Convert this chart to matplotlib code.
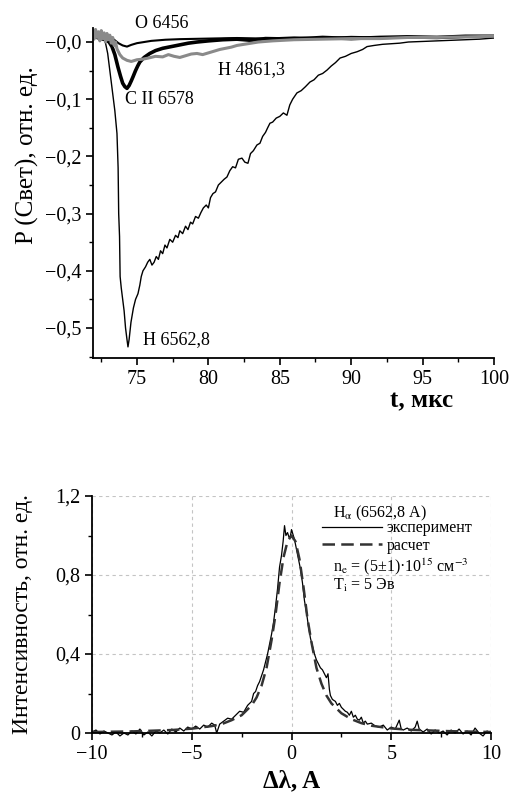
import matplotlib
matplotlib.use("Agg")
import matplotlib.pyplot as plt
from matplotlib.ticker import FixedLocator, FixedFormatter, MultipleLocator

plt.rcParams['font.family'] = ['Liberation Serif', 'DejaVu Serif']
plt.rcParams['mathtext.fontset'] = 'stix'
plt.rcParams['axes.unicode_minus'] = True

# --- верхний график: осциллограммы линий, P(t) ---
t_h65 = [71.92, 72.1, 72.3, 72.5, 72.7, 72.8, 72.95, 73.1, 73.3, 73.45, 73.6, 73.68,
         73.72, 73.78, 73.82, 73.9, 74.0, 74.1, 74.2, 74.3, 74.37, 74.45, 74.58, 74.75,
         74.9, 75.07, 75.2, 75.3, 75.42, 75.6, 75.75, 75.9, 76.05, 76.2, 76.35, 76.5,
         76.65, 76.8, 76.96, 77.1, 77.3, 77.5, 77.7, 77.87, 78.0, 78.2, 78.4, 78.57,
         78.75, 78.9, 79.1, 79.3, 79.48, 79.65, 79.85, 80.0, 80.15, 80.32, 80.5, 80.7,
         80.9, 81.1, 81.3, 81.5, 81.7, 81.9, 82.1, 82.35, 82.55, 82.77, 82.95, 83.15,
         83.4, 83.61, 83.8, 84.0, 84.15, 84.31, 84.5, 84.75, 85.0, 85.25, 85.5, 85.7,
         85.9, 86.2, 86.5, 86.8, 87.11, 87.4, 87.7, 88.0, 88.31, 88.6, 88.9, 89.22,
         89.6, 90.0, 90.41, 90.8, 91.11, 91.6, 92.2, 92.8, 93.4, 94.0, 95.0, 96.0,
         97.0, 98.0, 99.0, 100.0]
p_h65 = [0.008, 0.012, 0.006, 0.010, 0.004, -0.002, -0.02, -0.05, -0.09, -0.12, -0.16, -0.22,
         -0.30, -0.34, -0.41, -0.43, -0.45, -0.47, -0.50, -0.52, -0.533, -0.52, -0.49, -0.465,
         -0.45, -0.44, -0.425, -0.41, -0.40, -0.393, -0.385, -0.38, -0.39, -0.385, -0.375, -0.38,
         -0.365, -0.37, -0.355, -0.36, -0.345, -0.35, -0.338, -0.342, -0.33, -0.335, -0.322, -0.328,
         -0.315, -0.318, -0.305, -0.308, -0.298, -0.29, -0.285, -0.29, -0.272, -0.265, -0.262, -0.25,
         -0.245, -0.24, -0.236, -0.225, -0.218, -0.22, -0.205, -0.203, -0.21, -0.212, -0.195, -0.19,
         -0.18, -0.177, -0.165, -0.158, -0.15, -0.142, -0.14, -0.133, -0.13, -0.124, -0.128, -0.11,
         -0.10, -0.089, -0.085, -0.078, -0.07, -0.066, -0.058, -0.055, -0.049, -0.042, -0.036, -0.028,
         -0.025, -0.02, -0.017, -0.013, -0.008, -0.006, -0.004, -0.003, -0.002, 0.0, 0.001, 0.002,
         0.003, 0.004, 0.005, 0.007]

t_c2 = [71.92, 72.2, 72.5, 72.8, 73.05, 73.25, 73.45, 73.67, 73.85, 74.0, 74.15, 74.3,
        74.45, 74.6, 74.72, 74.9, 75.05, 75.2, 75.5, 75.9, 76.3, 76.8, 77.4, 78.0,
        78.6, 79.2, 80.0, 81.0, 82.0, 83.0, 84.0, 86.0, 88.0, 90.0, 92.0, 94.0,
        96.0, 98.0, 100.0]
p_c2 = [0.012, 0.008, 0.006, 0.004, 0.0, -0.008, -0.022, -0.044, -0.06, -0.072, -0.078, -0.081,
        -0.076, -0.068, -0.061, -0.05, -0.042, -0.035, -0.027, -0.02, -0.015, -0.011, -0.008, -0.005,
        -0.002, 0.0, 0.002, 0.004, 0.005, 0.003, 0.006, 0.005, 0.008, 0.006, 0.008, 0.009,
        0.008, 0.010, 0.010]

t_o = [71.92, 72.2, 72.5, 72.8, 73.1, 73.4, 73.7, 74.0, 74.3, 74.6, 75.0, 75.5,
       76.0, 77.0, 78.0, 80.0, 82.0, 84.0, 86.0, 88.0, 90.0, 92.0, 94.0, 96.0,
       98.0, 100.0]
p_o = [0.012, 0.016, 0.010, 0.014, 0.008, 0.004, -0.002, -0.006, -0.008, -0.005, -0.002, 0.0,
       0.002, 0.004, 0.005, 0.006, 0.007, 0.006, 0.008, 0.007, 0.009, 0.008, 0.009, 0.008,
       0.010, 0.010]

t_h48 = [71.92, 72.0, 72.1, 72.2, 72.3, 72.4, 72.5, 72.6, 72.7, 72.8, 72.9, 73.0,
         73.1, 73.2, 73.3, 73.4, 73.5, 73.6, 73.8, 74.0, 74.3, 74.6, 75.0, 75.4,
         75.8, 76.3, 76.8, 77.2, 77.6, 78.0, 78.4, 78.8, 79.2, 79.6, 80.0, 80.4,
         80.8, 81.2, 81.6, 82.0, 82.5, 83.0, 83.5, 84.5, 86.0, 88.0, 90.0, 92.0,
         94.0, 96.0, 98.0, 100.0]
p_h48 = [0.02, 0.005, 0.022, 0.008, 0.018, 0.002, 0.02, 0.006, 0.016, 0.0, 0.015, 0.004,
         0.012, -0.002, 0.008, -0.006, 0.0, -0.012, -0.022, -0.028, -0.032, -0.034, -0.031, -0.03,
         -0.028, -0.025, -0.026, -0.022, -0.025, -0.027, -0.024, -0.021, -0.02, -0.022, -0.019, -0.016,
         -0.013, -0.011, -0.009, -0.006, -0.004, -0.002, 0.0, 0.002, 0.004, 0.005, 0.006, 0.006,
         0.008, 0.008, 0.009, 0.010]

top_yticks = [0.0, -0.1, -0.2, -0.3, -0.4, -0.5]
top_ylabels = ['−0,0', '−0,1', '−0,2', '−0,3', '−0,4', '−0,5']
top_xticks = [75, 80, 85, 90, 95, 100]

# --- нижний график: контур H-альфа ---
dl_exp = [-10.0, -9.8, -9.6, -9.4, -9.2, -9.0, -8.8, -8.6, -8.4, -8.2, -8.0, -7.8,
          -7.6, -7.4, -7.2, -7.0, -6.8, -6.6, -6.4, -6.2, -6.0, -5.8, -5.6, -5.4,
          -5.2, -5.0, -4.8, -4.6, -4.4, -4.2, -4.0, -3.85, -3.75, -3.6, -3.4, -3.2,
          -3.0, -2.8, -2.6, -2.4, -2.2, -2.0, -1.9, -1.8, -1.7, -1.6, -1.5, -1.4,
          -1.3, -1.2, -1.1, -1.0, -0.9, -0.8, -0.7, -0.6, -0.5, -0.42, -0.35, -0.28,
          -0.2, -0.12, -0.05, 0.0, 0.06, 0.15, 0.25, 0.35, 0.45, 0.55, 0.65, 0.75,
          0.85, 0.95, 1.05, 1.15, 1.25, 1.35, 1.45, 1.55, 1.65, 1.75, 1.83, 1.9,
          1.95, 2.05, 2.2, 2.3, 2.4, 2.5, 2.6, 2.7, 2.8, 2.9, 3.0, 3.1,
          3.2, 3.3, 3.4, 3.5, 3.6, 3.7, 3.8, 4.0, 4.2, 4.4, 4.6, 4.8,
          5.0, 5.2, 5.4, 5.5, 5.6, 5.8, 6.0, 6.2, 6.3, 6.4, 6.6, 6.8,
          7.0, 7.2, 7.4, 7.6, 7.8, 8.0, 8.2, 8.4, 8.6, 8.8, 9.0, 9.2,
          9.4, 9.6, 9.8, 10.0]
i_exp = [0.005, 0.015, -0.005, 0.01, 0.0, -0.01, 0.005, -0.015, 0.0, -0.01, 0.01, -0.005,
         0.02, -0.01, 0.005, -0.015, 0.01, 0.0, 0.015, -0.005, 0.02, 0.005, 0.025, 0.01,
         0.03, 0.02, 0.035, 0.02, 0.04, 0.03, 0.05, 0.04, 0.0, 0.045, 0.06, 0.075,
         0.07, 0.09, 0.11, 0.105, 0.14, 0.16, 0.2, 0.21, 0.24, 0.26, 0.29, 0.32,
         0.36, 0.40, 0.45, 0.50, 0.56, 0.64, 0.73, 0.84, 0.90, 0.97, 1.05, 1.0,
         1.015, 0.99, 1.0, 1.03, 1.01, 0.98, 0.93, 0.88, 0.83, 0.76, 0.67, 0.61,
         0.54, 0.48, 0.44, 0.40, 0.37, 0.35, 0.33, 0.32, 0.30, 0.28, 0.30, 0.22,
         0.19, 0.17, 0.16, 0.14, 0.15, 0.13, 0.12, 0.11, 0.105, 0.09, 0.11, 0.08,
         0.09, 0.07, 0.065, 0.08, 0.05, 0.06, 0.045, 0.05, 0.035, 0.03, 0.04, 0.015,
         0.03, 0.02, 0.065, 0.02, 0.015, 0.025, 0.01, 0.03, 0.06, 0.02, 0.005, 0.02,
         -0.005, 0.015, 0.0, 0.01, -0.01, 0.015, 0.0, 0.02, -0.005, 0.01, -0.01, 0.025,
         0.0, -0.015, 0.01, 0.0]

dl_calc = [-10.0, -8.0, -6.0, -5.0, -4.0, -3.5, -3.0, -2.5, -2.0, -1.75, -1.5, -1.25,
           -1.0, -0.8, -0.6, -0.4, -0.2, 0.0, 0.2, 0.4, 0.6, 0.8, 1.0, 1.25,
           1.5, 1.75, 2.0, 2.5, 3.0, 3.5, 4.0, 5.0, 6.0, 8.0, 10.0]
i_calc = [0.005, 0.008, 0.015, 0.022, 0.035, 0.045, 0.065, 0.09, 0.14, 0.18, 0.24, 0.33,
          0.47, 0.60, 0.76, 0.89, 0.97, 1.0, 0.97, 0.88, 0.74, 0.58, 0.46, 0.33,
          0.25, 0.19, 0.15, 0.10, 0.07, 0.05, 0.037, 0.023, 0.016, 0.009, 0.005]

bot_yticks = [0.0, 0.4, 0.8, 1.2]
bot_ylabels = ['0', '0,4', '0,8', '1,2']
bot_xticks = [-10, -5, 0, 5, 10]
bot_xlabels = ['−10', '−5', '0', '5', '10']

fig = plt.figure(figsize=(5.18, 7.92), dpi=100)
ax1 = fig.add_axes([0.1795, 0.548, 0.7742, 0.417])
ax2 = fig.add_axes([0.1776, 0.0745, 0.7703, 0.2992])

# верхний график
ax1.plot(t_h65, p_h65, color='black', lw=1.0)
ax1.plot(t_c2, p_c2, color='black', lw=2.6)
ax1.plot(t_o, p_o, color='black', lw=1.5)
ax1.plot(t_h48, p_h48, color='#8a8a8a', lw=2.2)

ax1.set_xlim(71.92, 100)
ax1.set_ylim(-0.5524, 0.025)
for s in ['top', 'right']:
    ax1.spines[s].set_visible(False)
for s in ['left', 'bottom']:
    ax1.spines[s].set_linewidth(1.3)
ax1.yaxis.set_major_locator(FixedLocator(top_yticks))
ax1.yaxis.set_major_formatter(FixedFormatter(top_ylabels))
ax1.yaxis.set_minor_locator(MultipleLocator(0.05))
ax1.xaxis.set_major_locator(FixedLocator(top_xticks))
ax1.xaxis.set_minor_locator(MultipleLocator(2.5))
ax1.tick_params(which='major', direction='out', length=5, width=1.2, labelsize=14.5)
ax1.tick_params(which='minor', direction='out', length=3, width=1.0)
ax1.set_ylabel('P (Свет), отн. ед.', fontsize=18)
ax1.yaxis.set_label_coords(-0.135, 0.615)
ax1.set_xlabel('t, мкс', fontsize=18, fontweight='bold')
ax1.xaxis.set_label_coords(0.82, -0.095)

ax1.text(74.86, 0.033, 'O 6456', fontsize=13, va='center', clip_on=False)
ax1.text(80.67, -0.049, 'H 4861,3', fontsize=13, va='center')
ax1.text(74.16, -0.101, 'C II 6578', fontsize=13, va='center')
ax1.text(75.42, -0.521, 'H 6562,8', fontsize=13, va='center')

# нижний график
ax2.grid(True, color='#c4c4c4', ls=(0, (3, 3)), lw=0.8)
ax2.set_axisbelow(True)
exp_line, = ax2.plot(dl_exp, i_exp, color='black', lw=0.9, clip_on=False)
calc_line, = ax2.plot(dl_calc, i_calc, color='#333333', lw=1.8, ls=(0, (5, 2.5)))

ax2.set_xlim(-10, 10)
ax2.set_ylim(0, 1.2)
for s in ['top', 'right']:
    ax2.spines[s].set_visible(False)
for s in ['left', 'bottom']:
    ax2.spines[s].set_linewidth(1.3)
ax2.yaxis.set_major_locator(FixedLocator(bot_yticks))
ax2.yaxis.set_major_formatter(FixedFormatter(bot_ylabels))
ax2.yaxis.set_minor_locator(MultipleLocator(0.2))
ax2.xaxis.set_major_locator(FixedLocator(bot_xticks))
ax2.xaxis.set_major_formatter(FixedFormatter(bot_xlabels))
ax2.xaxis.set_minor_locator(MultipleLocator(2.5))
ax2.tick_params(which='major', direction='out', length=5, width=1.2, labelsize=14.5)
ax2.tick_params(which='minor', direction='out', length=3, width=1.0)
ax2.set_ylabel('Интенсивность, отн. ед.', fontsize=17)
ax2.yaxis.set_label_coords(-0.148, 0.5)
ax2.set_xlabel('Δλ, A', fontsize=18, fontweight='bold', labelpad=4)

# легенда: две линии, подпись и параметры расчета отдельным текстом
ax2.legend([exp_line, calc_line], ['эксперимент', 'расчет'], fontsize=11.5,
           loc='upper left', bbox_to_anchor=(0.576, 0.898), frameon=False,
           handlelength=3.75, handletextpad=0.3, labelspacing=0.1,
           borderpad=0.0, borderaxespad=0.0)
ax2.text(0.604, 0.928, 'H$_\\mathrm{\\alpha}$ (6562,8 A)', transform=ax2.transAxes,
         fontsize=11.5, va='center')
ax2.text(0.604, 0.70, 'n$_\\mathrm{e}$ = (5±1)·10$^{15}$ см$^{-3}$', transform=ax2.transAxes,
         fontsize=11.5, va='center')
ax2.text(0.604, 0.624, 'T$_\\mathrm{i}$ = 5 Эв', transform=ax2.transAxes,
         fontsize=11.5, va='center')

fig.savefig('out.png', dpi=100)
